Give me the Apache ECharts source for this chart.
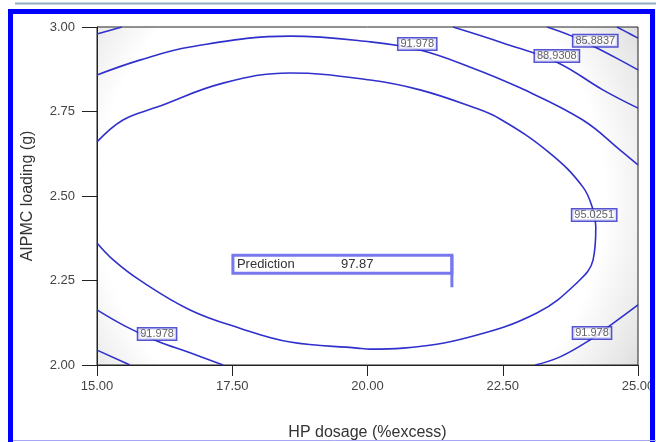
<!DOCTYPE html>
<html><head><meta charset="utf-8">
<script src="https://cdn.jsdelivr.net/npm/echarts@6/dist/echarts.min.js"></script>
<style>html,body{margin:0;padding:0;background:#fff}#c{width:656px;height:442px}</style>
</head><body><div id="c"></div>
<script>
// Axis ticks
const xTickValues = [15, 17.5, 20, 22.5, 25];
const yTickValues = [2.0, 2.25, 2.5, 2.75, 3.0];
const xTitle = 'HP dosage (%excess)';
const yTitle = 'AIPMC loading (g)';

// Contour lines
const c95_x = [15.00,15.48,16.11,17.33,18.57,20.05,20.97,21.89,22.45,23.37,23.98,24.17,24.22,24.17,23.87,23.13,21.89,20.66,20.05,19.81,18.57,17.64,16.72,15.79,15.30,15.00];
const c95_y = [2.660,2.725,2.763,2.834,2.864,2.843,2.814,2.766,2.728,2.627,2.527,2.459,2.408,2.311,2.243,2.154,2.083,2.050,2.047,2.050,2.068,2.109,2.163,2.251,2.311,2.361];
const c92top_x = [15.00,15.79,16.72,18.57,20.05,20.97,21.89,22.82,23.98,24.67,25.00];
const c92top_y = [2.858,2.902,2.941,2.973,2.956,2.932,2.882,2.820,2.725,2.636,2.592];
const c92bl_x = [15.00,15.52,16.11,16.72,17.33];
const c92bl_y = [2.163,2.115,2.071,2.036,2.000];
const c92br_x = [23.10,23.56,24.11,24.57,25.00];
const c92br_y = [2.000,2.024,2.074,2.127,2.178];
const c89tr_x = [21.58,22.50,23.50,24.35,25.00];
const c89tr_y = [3.000,2.953,2.896,2.814,2.760];
const c89tl_x = [15.00,15.46];
const c89tl_y = [2.979,3.000];
const c89bl_x = [15.00,15.61];
const c89bl_y = [2.044,2.000];
const c86_x = [23.32,23.78,24.24,24.67,25.00];
const c86_y = [3.000,2.973,2.938,2.902,2.873];
const c83_x = [24.61,24.80,25.00];
const c83_y = [3.000,2.984,2.967];

// Contour labels
const labelText = ['91.978','88.9308','85.8837','95.0251','91.978','91.978'];
const labelX = [20.92,23.50,24.21,24.19,16.11,24.15];
const labelY = [2.950,2.914,2.959,2.444,2.092,2.095];

// Prediction flag
const predX = 21.56, predY = 2.23, predName = 'Prediction', predValue = '97.87';

const zip = (xs, ys) => xs.map((x, i) => [x, ys[i]]);
const contours = [
  [c95_x, c95_y], [c92top_x, c92top_y], [c92bl_x, c92bl_y], [c92br_x, c92br_y],
  [c89tr_x, c89tr_y], [c89tl_x, c89tl_y], [c89bl_x, c89bl_y], [c86_x, c86_y], [c83_x, c83_y]
];
const lineColor = '#3030cc';
const series = contours.map(([xs, ys]) => ({
  type: 'line', data: zip(xs, ys), smooth: 0.4, symbol: 'none',
  lineStyle: { color: lineColor, width: 1.6 }, z: 3, silent: true
}));
series.push({
  type: 'scatter', symbolSize: 0, z: 5,
  data: labelText.map((t, i) => ({ value: [labelX[i], labelY[i]], name: t })),
  label: {
    show: true, position: 'inside', formatter: p => p.name,
    fontFamily: 'Liberation Sans Narrow, Arial, sans-serif', fontSize: 11, color: '#3a3a3a',
    backgroundColor: '#fff', borderColor: '#2a2ac8', borderWidth: 1.5, padding: [0, 2, 0, 2]
  }
});

const chart = echarts.init(document.getElementById('c'), null, { renderer: 'canvas' });
const font = 'Arial, Liberation Sans, sans-serif';
chart.setOption({
  animation: false,
  grid: {
    left: 97, right: 18, top: 27, bottom: 77, show: true,
    outerBoundsMode: 'none', containLabel: false,
    borderColor: '#222', borderWidth: 1,
    backgroundColor: {
      type: 'radial', x: 0.47, y: 0.5, r: 1.1,
      colorStops: [
        { offset: 0, color: '#ffffff' }, { offset: 0.68, color: '#ffffff' },
        { offset: 0.85, color: '#e6e6e6' }, { offset: 1, color: '#c4c4c4' }
      ]
    }
  },
  xAxis: {
    type: 'value', min: 15, max: 25, interval: 2.5,
    name: xTitle, nameLocation: 'middle', nameGap: 60,
    nameTextStyle: { fontFamily: font, fontSize: 16, color: '#333' },
    axisLine: { lineStyle: { color: '#222' } },
    axisTick: { show: true, length: 11, lineStyle: { color: '#222' } },
    axisLabel: { margin: 15, fontFamily: font, fontSize: 13, color: '#444',
      formatter: v => xTickValues.includes(v) ? v.toFixed(2) : '' },
    splitLine: { show: false }
  },
  yAxis: {
    type: 'value', min: 2, max: 3, interval: 0.25,
    name: yTitle, nameLocation: 'middle', nameGap: 61,
    nameTextStyle: { fontFamily: font, fontSize: 16, color: '#333' },
    axisLine: { show: true, lineStyle: { color: '#222' } },
    axisTick: { show: true, length: 15, lineStyle: { color: '#222' } },
    axisLabel: { margin: 22, fontFamily: font, fontSize: 13, color: '#444',
      formatter: v => yTickValues.some(t => Math.abs(t - v) < 1e-9) ? v.toFixed(2) : '' },
    splitLine: { show: false }
  },
  series: series
});

const pt = chart.convertToPixel({ gridIndex: 0 }, [predX, predY]);
const bx = pt[0], by = pt[1];
chart.setOption({
  graphic: [
    { type: 'line', shape: { x1: 15, y1: 3.5, x2: 656, y2: 3.5 }, style: { stroke: '#93aac4', lineWidth: 2 }, z: 100 },
    { type: 'rect', shape: { x: 10.5, y: 11.5, width: 642, height: 440 }, style: { fill: 'none', stroke: '#0000ff', lineWidth: 5 }, z: 100 },
    { type: 'line', shape: { x1: 13, y1: 440.5, x2: 656, y2: 440.5 }, style: { stroke: '#a8a8f0', lineWidth: 1 }, z: 100 },
    { type: 'rect', shape: { x: bx - 219, y: by - 32, width: 219, height: 18 }, style: { fill: '#fff', stroke: '#7878ee', lineWidth: 3 }, z: 50 },
    { type: 'line', shape: { x1: bx, y1: by - 32, x2: bx, y2: by }, style: { stroke: '#7878ee', lineWidth: 3 }, z: 51 },
    { type: 'text', x: bx - 215, y: by - 23, style: { text: predName, font: '13px ' + font, fill: '#333', verticalAlign: 'middle' }, z: 52 },
    { type: 'text', x: bx - 111, y: by - 23, style: { text: predValue, font: '13px ' + font, fill: '#333', verticalAlign: 'middle' }, z: 52 }
  ]
});
</script></body></html>
